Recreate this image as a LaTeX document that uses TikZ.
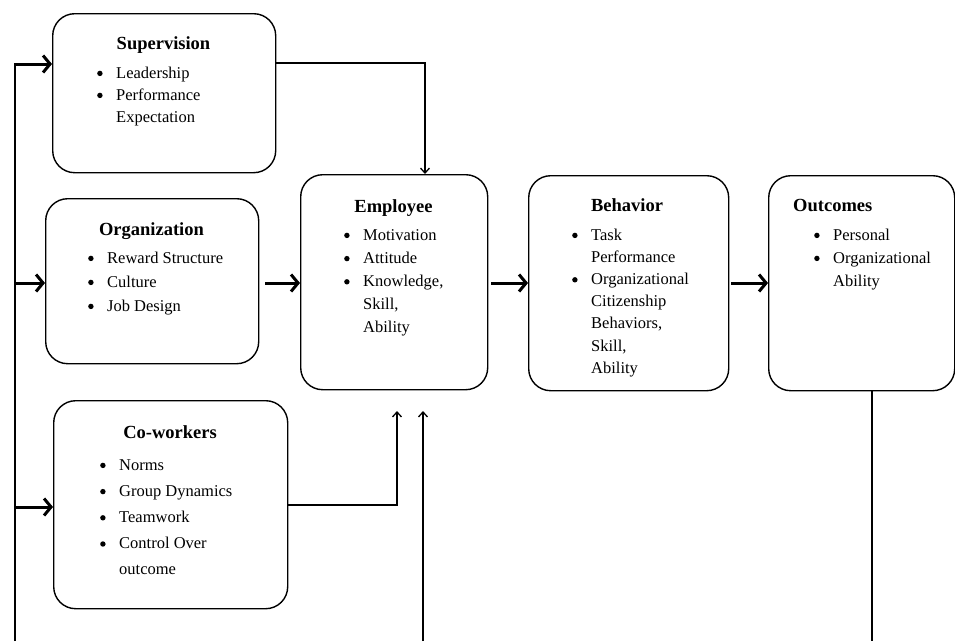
\documentclass[tikz,border=0pt]{standalone}
\usepackage{fontspec}
\setmainfont{Liberation Serif}
\usetikzlibrary{arrows.meta}
\newcommand{\bigbul}{\tikz[x=1pt,y=1pt,baseline=-4.6pt]\fill (2.8,0) circle (2.7pt);}
\newcommand{\itm}{\bigbul &}
\newcommand{\blist}[1]{\begin{tabular}[t]{@{}p{19pt}@{}l@{}}#1\end{tabular}}
\begin{document}
\begin{tikzpicture}[x=1pt,y=-1pt,
  box/.style={draw, line width=1.4pt, rounded corners=22pt, anchor=north west, inner sep=0pt},
  thickarrow/.style={line width=3pt, -{Straight Barb[length=7pt,width=17pt]}},
  thinarrow/.style={line width=1.3pt, -{Straight Barb[length=5pt,width=9pt]}},
  ttl/.style={font=\fontsize{18.5}{22}\selectfont\bfseries, anchor=base, inner sep=0pt},
  lst/.style={anchor=base west, inner sep=0pt}]
\useasboundingbox (0,0) rectangle (955,641);

% boxes
\node[box, minimum width=223pt, minimum height=159pt] (sup) at (52,13) {};
\node[box, minimum width=213pt, minimum height=165pt] (org) at (45,198) {};
\node[box, minimum width=187pt, minimum height=215pt] (emp) at (300,174) {};
\node[box, minimum width=200pt, minimum height=215pt] (beh) at (528,175) {};
\node[box, minimum width=186pt, minimum height=215pt] (out) at (768,175) {};
\node[box, minimum width=234pt, minimum height=208pt] (cow) at (53,400) {};

% titles
\node[ttl] (supt) at (163.5,49) {Supervision};
\node[ttl] (orgt) at (151.5,235) {Organization};
\node[ttl] (empt) at (393.5,212) {Employee};
\node[ttl] (beht) at (627,211) {Behavior};
\node[ttl, anchor=base west] (outt) at (793,211) {Outcomes};
\node[ttl] (cowt) at (170,438) {Co-workers};

% lists
\node[lst, font=\fontsize{16.5}{22}\selectfont] (supl) at (97,78)
  {\blist{\itm Leadership\\ \itm Performance\\ & Expectation}};
\node[lst, font=\fontsize{16.5}{24}\selectfont] (orgl) at (88,263)
  {\blist{\itm Reward Structure\\ \itm Culture\\ \itm Job Design}};
\node[lst, font=\fontsize{16.5}{23.2}\selectfont] (empl) at (344,240)
  {\blist{\itm Motivation\\ \itm Attitude\\ \itm Knowledge,\\ & Skill,\\ & Ability}};
\node[lst, font=\fontsize{16.5}{22.2}\selectfont] (behl) at (572,240)
  {\blist{\itm Task\\ & Performance\\ \itm Organizational\\ & Citizenship\\ & Behaviors,\\ & Skill,\\ & Ability}};
\node[lst, font=\fontsize{16.5}{23}\selectfont] (outl) at (814,240)
  {\blist{\itm Personal\\ \itm Organizational\\ & Ability}};
\node[lst, font=\fontsize{16.5}{26.2}\selectfont] (cowl) at (100,470)
  {\blist{\itm Norms\\ \itm Group Dynamics\\ \itm Teamwork\\ \itm Control Over\\ & outcome}};

% left feedback line and thick arrows
\coordinate (L0) at (15,641);
\coordinate (L1) at (15,64);
\coordinate (L2) at (15,283);
\coordinate (L3) at (15,507);
\draw[line width=2pt] (L0) -- ([yshift=-1pt]L1);
\draw[thickarrow] ([xshift=-1pt]L1) -- (L1 -| sup.west);
\draw[thickarrow] (L2) -- (L2 -| org.west);
\draw[thickarrow] (L3) -- (L3 -| cow.west);

% main chain
\coordinate (a1) at (265,283);
\coordinate (a2) at (491,283);
\coordinate (a3) at (731,283);
\draw[thickarrow] (a1) -- (a1 -| emp.west);
\draw[thickarrow] (a2) -- (a2 -| beh.west);
\draw[thickarrow] (a3) -- (a3 -| out.west);

% supervision -> employee
\coordinate (s1) at (425,63);
\draw[thinarrow] (s1 -| sup.east) -- (s1) -- (s1 |- emp.north);

% co-workers -> employee
\coordinate (c1) at (397,505);
\coordinate (c2) at (397,411);
\draw[thinarrow] (c1 -| cow.east) -- (c1) -- (c2);

% bottom feedback arrow
\coordinate (b0) at (423,641);
\coordinate (b1) at (423,411);
\draw[thinarrow] (b0) -- (b1);

% outcomes line
\coordinate (o1) at (872,641);
\draw[line width=1.3pt] (out.south -| o1) -- (o1);
\end{tikzpicture}
\end{document}
